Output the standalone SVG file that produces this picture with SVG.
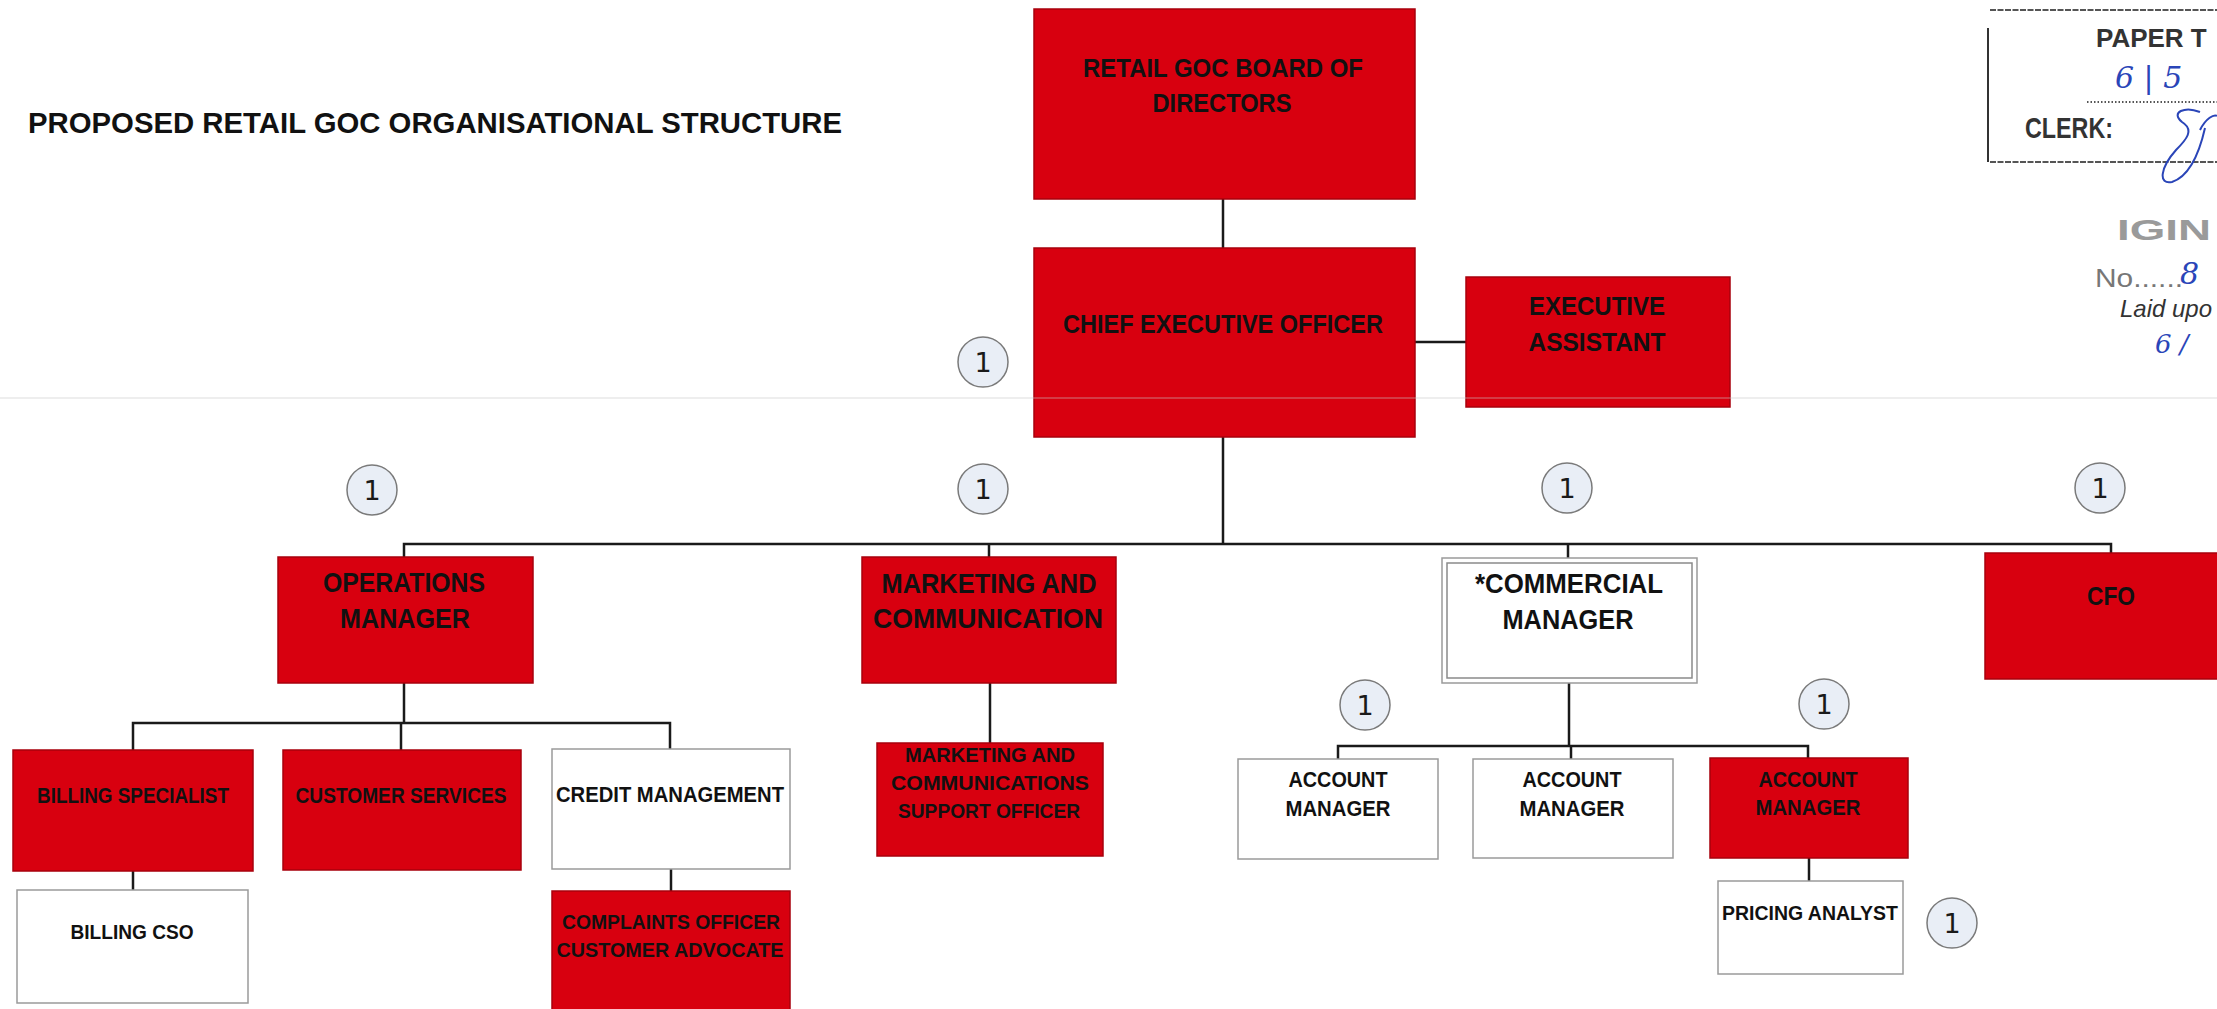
<svg xmlns="http://www.w3.org/2000/svg" width="2217" height="1009" viewBox="0 0 2217 1009">
<style>
.red{fill:#d8000f;stroke:#a8000c;stroke-width:1.5}
.wht{fill:#ffffff;stroke:#9a9a9a;stroke-width:1.5}
.t{font-family:"Liberation Sans",Arial,sans-serif;font-weight:bold;fill:#111;text-anchor:middle}
.con{fill:none;stroke:#1a1a1a;stroke-width:2.5}
.badge circle{fill:#e9eef6;stroke:#7a7a7a;stroke-width:1.5}
.badge text{font-family:"DejaVu Sans",sans-serif;font-size:27px;fill:#1a1a1a;text-anchor:middle}
.stamp{font-family:"Liberation Sans",Arial,sans-serif;fill:#333}
.hand{font-family:"DejaVu Serif",serif;font-style:italic;fill:#2a45b8}
</style>
<rect width="2217" height="1009" fill="#ffffff"/>

<text x="28" y="133" font-family="Liberation Sans, Arial, sans-serif" font-weight="bold" font-size="30" fill="#111" textLength="814" lengthAdjust="spacingAndGlyphs">PROPOSED RETAIL GOC ORGANISATIONAL STRUCTURE</text>

<g id="stamp">
<path d="M1990 10 H2217 M1990 162 H2217" stroke="#555" stroke-width="2" stroke-dasharray="6 1.5"/>
<path d="M1988 28 V162" stroke="#333" stroke-width="2"/>
<path d="M2087 102 H2217" stroke="#555" stroke-width="2" stroke-dasharray="1.5 2"/>
<text class="stamp" x="2096" y="47" font-size="26" font-weight="bold">PAPER T</text>
<text class="stamp" x="2025" y="138" font-size="30" font-weight="bold" textLength="88" lengthAdjust="spacingAndGlyphs">CLERK:</text>
<text class="hand" x="2115" y="88" font-size="30">6 | 5</text>
<path d="M2200 112 C2185 106 2170 112 2182 122 C2195 130 2186 140 2176 150 C2160 168 2158 185 2172 182 C2190 176 2200 150 2205 128 M2200 130 C2206 118 2214 114 2217 116" fill="none" stroke="#2a45b8" stroke-width="2"/>
<text class="stamp" x="2117" y="240" font-size="30" font-weight="bold" textLength="94" lengthAdjust="spacingAndGlyphs" style="fill:#9a9a9a">IGIN</text>
<text class="stamp" x="2095" y="287" font-size="26" textLength="88" lengthAdjust="spacingAndGlyphs" style="fill:#777">No......</text>
<text class="hand" x="2180" y="284" font-size="30">8</text>
<text class="stamp" x="2120" y="317" font-size="24" font-style="italic" textLength="92" lengthAdjust="spacingAndGlyphs">Laid upo</text>
<text class="hand" x="2155" y="353" font-size="26">6 /</text>
</g>

<g id="connectors">
<path class="con" d="M1223 199 V248"/>
<path class="con" d="M1415 342 H1466" stroke="#444" stroke-width="3"/>
<path class="con" d="M1223 437 V544"/>
<path class="con" d="M404 557 V544 H2111 V553"/>
<path class="con" d="M989 544 V557"/>
<path class="con" d="M1568 544 V558"/>
<path class="con" d="M404 683 V723"/>
<path class="con" d="M133 750 V723 H670 V749"/>
<path class="con" d="M401 723 V750"/>
<path class="con" d="M133 871 V890"/>
<path class="con" d="M671 869 V891"/>
<path class="con" d="M990 683 V743"/>
<path class="con" d="M1569 683 V746"/>
<path class="con" d="M1338 759 V746 H1808 V758"/>
<path class="con" d="M1571 746 V759"/>
<path class="con" d="M1809 858 V881"/>
</g>

<g id="board">
<rect class="red" x="1034" y="9" width="381" height="190"/>
<text class="t" x="1223" y="77" font-size="25" textLength="280" lengthAdjust="spacingAndGlyphs">RETAIL GOC BOARD OF</text>
<text class="t" x="1222" y="112" font-size="25" textLength="139" lengthAdjust="spacingAndGlyphs">DIRECTORS</text>
</g>
<g id="ceo">
<rect class="red" x="1034" y="248" width="381" height="189"/>
<text class="t" x="1223" y="333" font-size="26" textLength="320" lengthAdjust="spacingAndGlyphs">CHIEF EXECUTIVE OFFICER</text>
</g>
<g id="exec-assistant">
<rect class="red" x="1466" y="277" width="264" height="130"/>
<text class="t" x="1597" y="315" font-size="26" textLength="136" lengthAdjust="spacingAndGlyphs">EXECUTIVE</text>
<text class="t" x="1597" y="351" font-size="26" textLength="137" lengthAdjust="spacingAndGlyphs">ASSISTANT</text>
</g>
<g id="ops-manager">
<rect class="red" x="278" y="557" width="255" height="126"/>
<text class="t" x="404" y="592" font-size="27" textLength="162" lengthAdjust="spacingAndGlyphs">OPERATIONS</text>
<text class="t" x="405" y="628" font-size="27" textLength="130" lengthAdjust="spacingAndGlyphs">MANAGER</text>
</g>
<g id="marketing">
<rect class="red" x="862" y="557" width="254" height="126"/>
<text class="t" x="989" y="593" font-size="28" textLength="215" lengthAdjust="spacingAndGlyphs">MARKETING AND</text>
<text class="t" x="988" y="628" font-size="28" textLength="230" lengthAdjust="spacingAndGlyphs">COMMUNICATION</text>
</g>
<g id="commercial-manager">
<rect class="wht" x="1442" y="558" width="255" height="125" stroke="#c8c8c8"/>
<rect x="1447" y="563" width="245" height="115" fill="none" stroke="#8a8a8a" stroke-width="1.5"/>
<text class="t" x="1569" y="593" font-size="28" textLength="188" lengthAdjust="spacingAndGlyphs">*COMMERCIAL</text>
<text class="t" x="1568" y="629" font-size="28" textLength="131" lengthAdjust="spacingAndGlyphs">MANAGER</text>
</g>
<g id="cfo">
<rect class="red" x="1985" y="553" width="250" height="126"/>
<text class="t" x="2111" y="605" font-size="25" textLength="48" lengthAdjust="spacingAndGlyphs">CFO</text>
</g>
<g id="billing-specialist">
<rect class="red" x="13" y="750" width="240" height="121"/>
<text class="t" x="133" y="803" font-size="22" textLength="192" lengthAdjust="spacingAndGlyphs">BILLING SPECIALIST</text>
</g>
<g id="customer-services">
<rect class="red" x="283" y="750" width="238" height="120"/>
<text class="t" x="401" y="803" font-size="22" textLength="211" lengthAdjust="spacingAndGlyphs">CUSTOMER SERVICES</text>
</g>
<g id="credit-management">
<rect class="wht" x="552" y="749" width="238" height="120"/>
<text class="t" x="670" y="802" font-size="22" textLength="228" lengthAdjust="spacingAndGlyphs">CREDIT MANAGEMENT</text>
</g>
<g id="billing-cso">
<rect class="wht" x="17" y="890" width="231" height="113"/>
<text class="t" x="132" y="939" font-size="21" textLength="123" lengthAdjust="spacingAndGlyphs">BILLING CSO</text>
</g>
<g id="complaints-officer">
<rect class="red" x="552" y="891" width="238" height="130"/>
<text class="t" x="671" y="929" font-size="21" textLength="218" lengthAdjust="spacingAndGlyphs">COMPLAINTS OFFICER</text>
<text class="t" x="670" y="957" font-size="21" textLength="227" lengthAdjust="spacingAndGlyphs">CUSTOMER ADVOCATE</text>
</g>
<g id="marketing-support">
<rect class="red" x="877" y="743" width="226" height="113"/>
<text class="t" x="990" y="762" font-size="21" textLength="170" lengthAdjust="spacingAndGlyphs">MARKETING AND</text>
<text class="t" x="990" y="790" font-size="21" textLength="198" lengthAdjust="spacingAndGlyphs">COMMUNICATIONS</text>
<text class="t" x="989" y="818" font-size="21" textLength="182" lengthAdjust="spacingAndGlyphs">SUPPORT OFFICER</text>
</g>
<g id="account-manager-1">
<rect class="wht" x="1238" y="759" width="200" height="100"/>
<text class="t" x="1338" y="787" font-size="22" textLength="99" lengthAdjust="spacingAndGlyphs">ACCOUNT</text>
<text class="t" x="1338" y="816" font-size="22" textLength="105" lengthAdjust="spacingAndGlyphs">MANAGER</text>
</g>
<g id="account-manager-2">
<rect class="wht" x="1473" y="759" width="200" height="99"/>
<text class="t" x="1572" y="787" font-size="22" textLength="99" lengthAdjust="spacingAndGlyphs">ACCOUNT</text>
<text class="t" x="1572" y="816" font-size="22" textLength="105" lengthAdjust="spacingAndGlyphs">MANAGER</text>
</g>
<g id="account-manager-3">
<rect class="red" x="1710" y="758" width="198" height="100"/>
<text class="t" x="1808" y="787" font-size="22" textLength="99" lengthAdjust="spacingAndGlyphs">ACCOUNT</text>
<text class="t" x="1808" y="815" font-size="22" textLength="105" lengthAdjust="spacingAndGlyphs">MANAGER</text>
</g>
<g id="pricing-analyst">
<rect class="wht" x="1718" y="881" width="185" height="93"/>
<text class="t" x="1810" y="920" font-size="21" textLength="176" lengthAdjust="spacingAndGlyphs">PRICING ANALYST</text>
</g>

<line x1="0" y1="398" x2="2217" y2="398" stroke="#c8c8c8" stroke-width="1" opacity="0.6"/>

<g id="badges" class="badge">
<g><circle cx="983" cy="362" r="25"/><text x="983" y="372">1</text></g>
<g><circle cx="372" cy="490" r="25"/><text x="372" y="500">1</text></g>
<g><circle cx="983" cy="489" r="25"/><text x="983" y="499">1</text></g>
<g><circle cx="1567" cy="488" r="25"/><text x="1567" y="498">1</text></g>
<g><circle cx="2100" cy="488" r="25"/><text x="2100" y="498">1</text></g>
<g><circle cx="1365" cy="705" r="25"/><text x="1365" y="715">1</text></g>
<g><circle cx="1824" cy="704" r="25"/><text x="1824" y="714">1</text></g>
<g><circle cx="1952" cy="923" r="25"/><text x="1952" y="933">1</text></g>
</g>
</svg>
